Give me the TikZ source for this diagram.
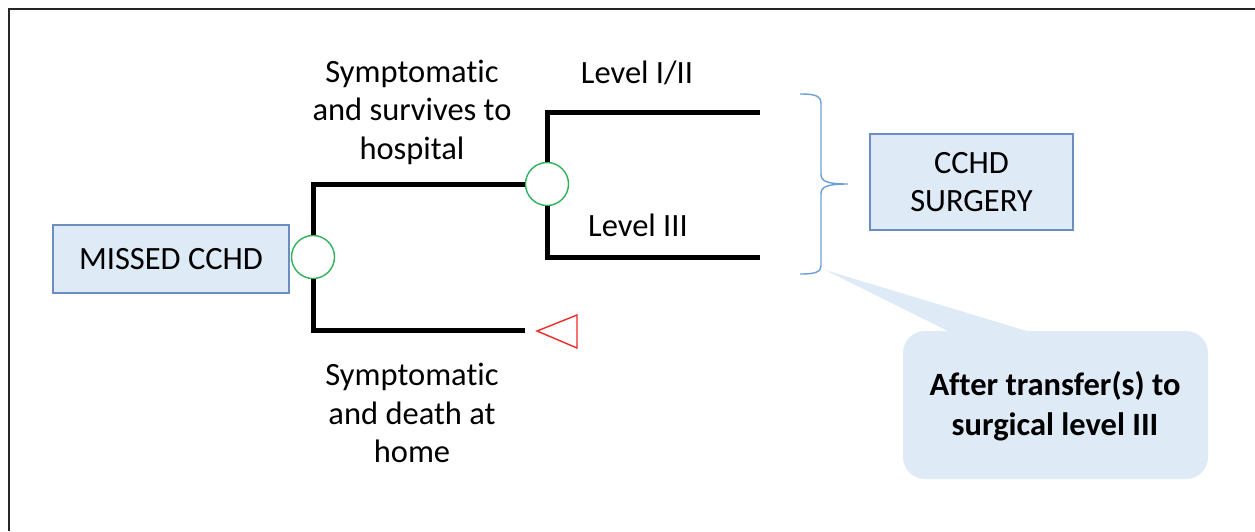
\documentclass[tikz,border=0pt]{standalone}
\usepackage{fontspec}
\setmainfont[Ligatures={NoCommon,NoContextual}]{Carlito}
\begin{document}
\begin{tikzpicture}[x=1pt,y=-1pt,
  every node/.style={font=\fontsize{32.5}{38.5}\selectfont},
  boxstyle/.style={draw={rgb,255:red,108;green,142;blue,191},line width=1.3pt,
    fill={rgb,255:red,222;green,234;blue,246},inner sep=0pt,align=center},
  chance/.style={circle,draw={rgb,255:red,46;green,178;blue,90},line width=1.4pt,
    fill=white,minimum size=43pt,inner sep=0pt},
  branch/.style={line width=5pt},
  label/.style={align=center,inner sep=0pt},
  bracec/.style={draw={rgb,255:red,106;green,160;blue,216},line width=1.4pt},
  callfill/.style={fill={rgb,255:red,222;green,234;blue,246}}
]
\useasboundingbox (0,0) rectangle (1255,531);
% outer frame (only top and left edges fall inside the page)
\draw[line width=2pt,black!85] (9,531) -- (9,9) -- (1256,9);

% decision tree nodes
\node[boxstyle,minimum width=236pt,minimum height=68pt] (missed) at (171,259) {MISSED CCHD};
\node[boxstyle,minimum width=203pt,minimum height=96pt] (surgery) at (971.5,182) {CCHD\\SURGERY};
\node[chance] (c1) at (313,257) {};
\node[chance] (c2) at (547,184) {};

% terminal node (death)
\draw[draw={rgb,255:red,240;green,40;blue,40},line width=1.4pt,line join=miter]
  (537,331) -- (577,315) -- (577,348) -- cycle;
\coordinate (deathend) at (525,330);
\coordinate (lvlAend) at (760,112);
\coordinate (lvlBend) at (760,257);

% branches
\draw[branch] (c1.north) |- (c2.west);
\draw[branch] (c1.south) |- (deathend);
\draw[branch] (c2.north) |- (lvlAend);
\draw[branch] (c2.south) |- (lvlBend);

% branch labels
\node[label] (survives) at (412,112) {Symptomatic\\and survives to\\hospital};
\node[label] (death) at (412,413) {Symptomatic\\and death at\\home};
\node[label] (levelA) at (637,73) {Level I/II};
\node[label] (levelB) at (638,225) {Level III};

% brace grouping the two levels
\draw[bracec] (800,94) .. controls (816,94) and (821,96) .. (821,104)
  -- (821,174) .. controls (821,181) and (826,184) .. (848,184)
  .. controls (826,184) and (821,187) .. (821,194)
  -- (821,265) .. controls (821,272) and (816,274) .. (800,274);

% callout
\coordinate (calltip) at (825,270);
\fill[callfill] (calltip) -- (950,332) -- (1030,332) -- cycle;
\fill[callfill,rounded corners=22pt] (903,331) rectangle (1208,479);
\node[label,font=\fontsize{32.5}{40}\selectfont\bfseries] (note) at (1055,406)
  {After transfer(s) to\\surgical level III};
\end{tikzpicture}
\end{document}
